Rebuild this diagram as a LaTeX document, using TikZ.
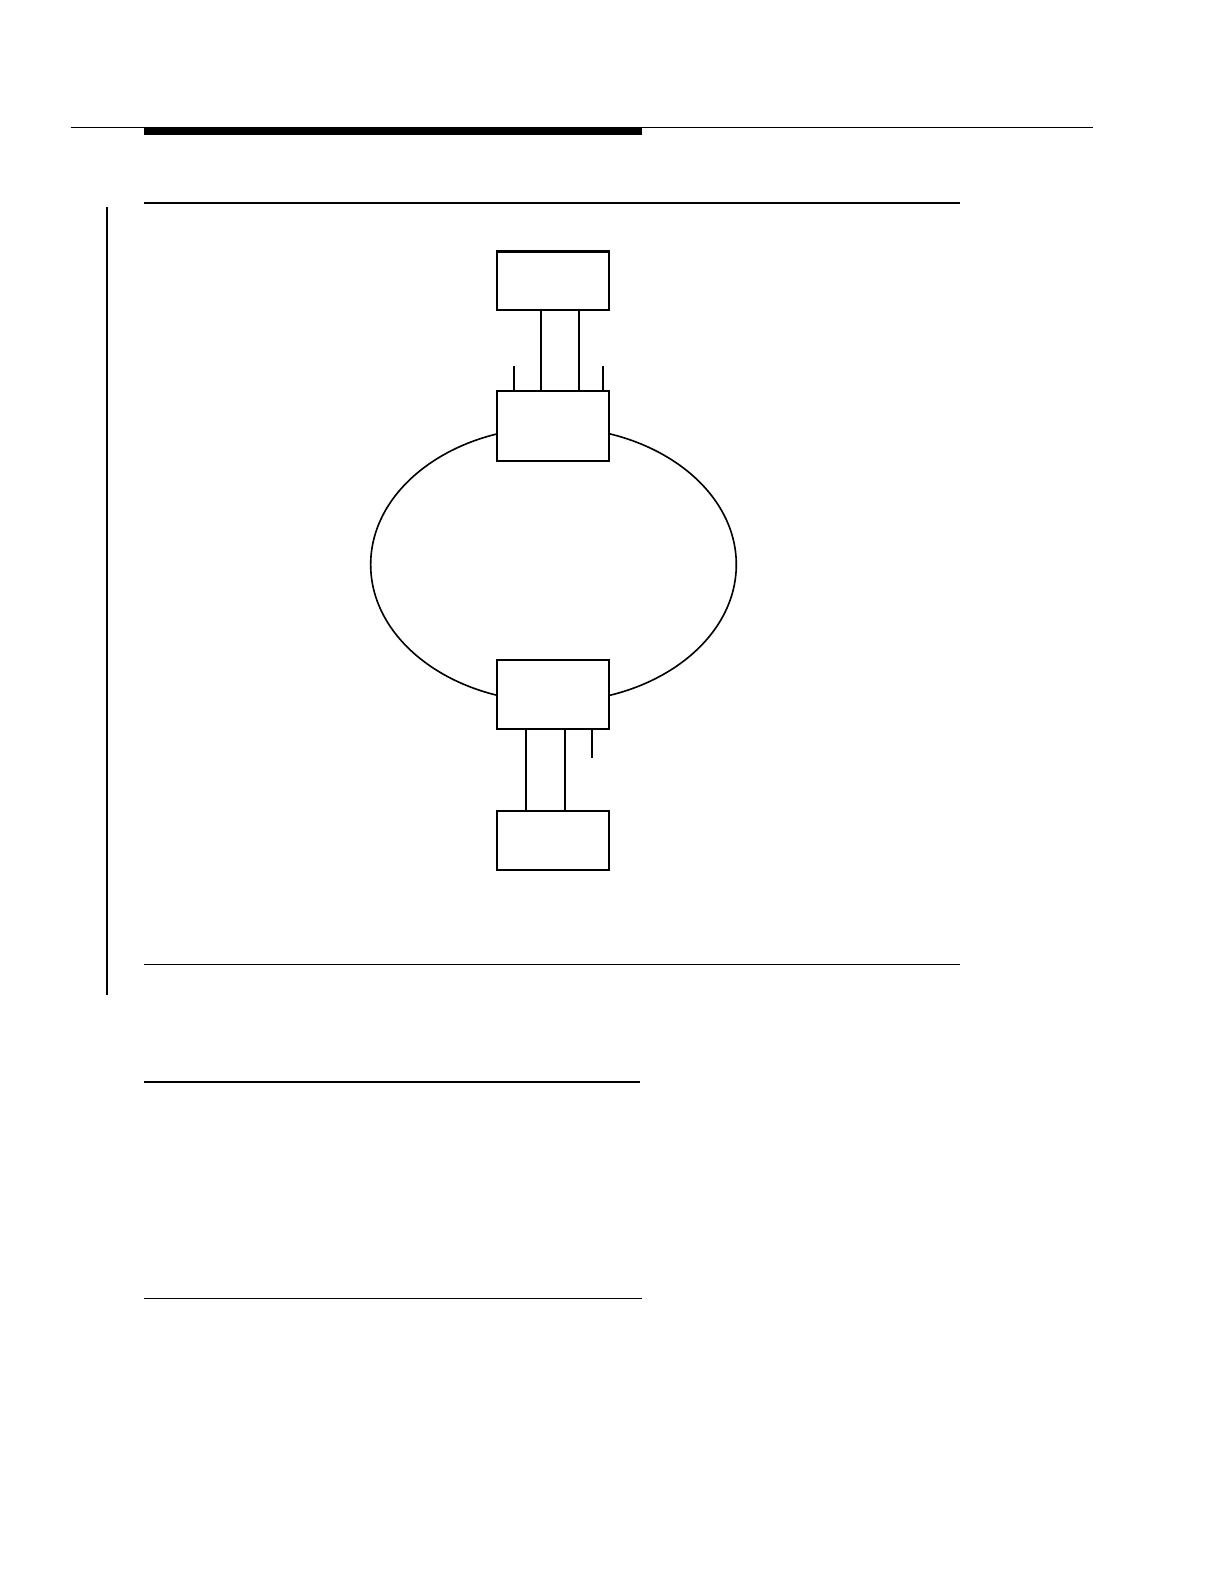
\documentclass[tikz,border=0pt]{standalone}
\usepackage{tikz}
\usetikzlibrary{positioning}

\tikzset{
  unitbox/.style={draw, fill=white, line width=1bp, inner sep=0pt,
    minimum width=55.5bp, minimum height=34.5bp},
  endbox/.style={unitbox, minimum height=29bp},
  link/.style={line width=1bp}
}

\begin{document}
\begin{tikzpicture}[x=0.5bp,y=-0.5bp]
        \useasboundingbox (0,0) rectangle (1212,1568.3);

        % Page rules
        \draw[line width=0.5bp] (70,126) -- (1082,126);
        \fill (143,126) rectangle (636,134);
        \draw[line width=1bp] (143,201) -- (950,201);
        \draw[line width=1bp] (106,205) -- (106,985);
        \draw[line width=0.5bp] (143,955) -- (950,955);
        \draw[line width=1bp] (143,1071) -- (634,1071);
        \draw[line width=0.5bp] (143,1286) -- (636,1286);

        % Ring
        \draw[line width=0.8bp] (548,559) ellipse [x radius=181, y radius=136];

        % Units on the ring and end units
        \node[endbox] (host) at (547.5,278) {};
        \node[unitbox] (upper) at (547.5,421.5) {};
        \node[unitbox] (lower) at (547.5,687.5) {};
        \node[endbox] (term) at (547.5,832) {};

        % Upper links
        \draw[link] ([xshift=-5.75bp]host.south) -- ([xshift=-5.75bp]upper.north);
        \draw[link] ([xshift=12.75bp]host.south) -- ([xshift=12.75bp]upper.north);
        \coordinate (stubA) at (509,362);
        \coordinate (stubB) at (597,362);
        \draw[link] (stubA) -- (stubA |- upper.north);
        \draw[link] (stubB) -- (stubB |- upper.north);

        % Lower links
        \draw[link] ([xshift=-13.25bp]lower.south) -- ([xshift=-13.25bp]term.north);
        \draw[link] ([xshift=5.75bp]lower.south) -- ([xshift=5.75bp]term.north);
        \coordinate (stubC) at (586,750);
        \draw[link] (stubC |- lower.south) -- (stubC);
    \end{tikzpicture}
\end{document}
